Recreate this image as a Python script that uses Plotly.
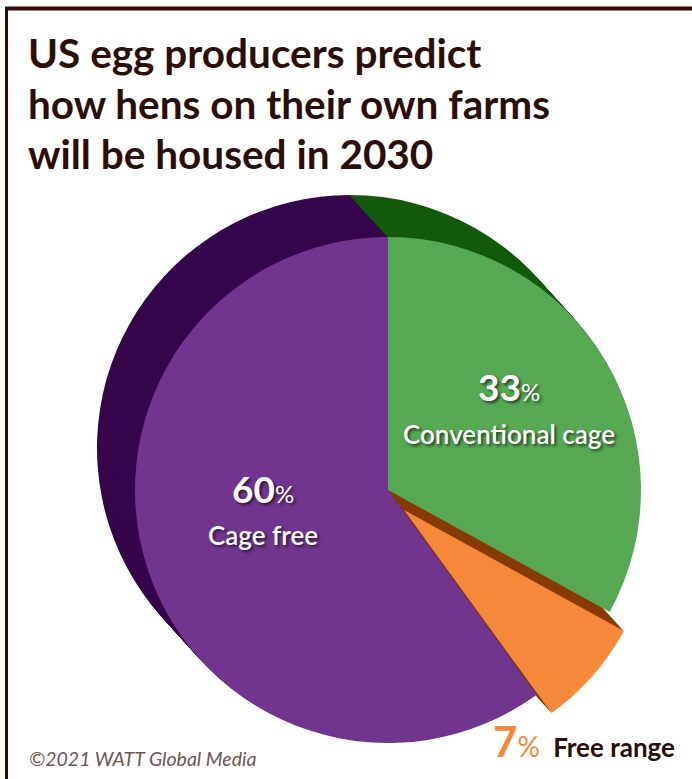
import plotly.graph_objects as go

# ---- data -------------------------------------------------------------
categories = ["Conventional cage", "Free range", "Cage free"]
shares = [33, 7, 60]

# ---- styling ----------------------------------------------------------
W, H = 692, 779
FACE = {"Conventional cage": "#56A853", "Free range": "#F6883A", "Cage free": "#72358F"}
SIDE = {"Conventional cage": "#135B0B", "Free range": "#8A3B06", "Cage free": "#36064C"}
CLEAR = "rgba(0,0,0,0)"
INK = "#2C0E09"

# pie geometry in pixels (centre x, centre y, radius)
MAIN_C, MAIN_R = (388, 490), 253
WEDGE_C, WEDGE_R = (404, 510), 251          # the detached "Free range" wedge
DEPTH = (-38, -42)                          # extrusion towards the back
N_LAYERS = 30


def domain(cx, cy, r):
    return dict(x=[(cx - r) / W, (cx + r) / W],
                y=[1 - (cy + r) / H, 1 - (cy - r) / H])


def pie(center, r, colors):
    return go.Pie(labels=categories, values=shares, sort=False,
                  direction="clockwise", rotation=0,
                  domain=domain(center[0], center[1], r),
                  marker=dict(colors=colors, line=dict(width=0)),
                  textinfo="none", hoverinfo="skip", showlegend=False)


traces = []
# side walls: stacked copies from the back to the front
for k in range(N_LAYERS, 0, -1):
    t = k / N_LAYERS
    off = (DEPTH[0] * t, DEPTH[1] * t)
    main_side = [SIDE[c] if c != "Free range" else CLEAR for c in categories]
    wedge_side = [SIDE[c] if c == "Free range" else CLEAR for c in categories]
    traces.append(pie((MAIN_C[0] + off[0], MAIN_C[1] + off[1]), MAIN_R, main_side))
    traces.append(pie((WEDGE_C[0] + off[0], WEDGE_C[1] + off[1]), WEDGE_R, wedge_side))

# front faces
traces.append(pie(MAIN_C, MAIN_R,
                  [FACE[c] if c != "Free range" else CLEAR for c in categories]))
traces.append(pie(WEDGE_C, WEDGE_R,
                  [FACE[c] if c == "Free range" else CLEAR for c in categories]))

fig = go.Figure(traces)

SHADOW = "2px 2px 3px rgba(0,0,0,0.6)"
TITLE_FONT = "Lato, sans-serif"
LABEL_FONT = "Lato, Liberation Sans, sans-serif"


def px(x, y):
    return x / W, 1 - y / H


annotations = []

title_lines = ["US egg producers predict",
               "how hens on their own farms",
               "will be housed in 2030"]
for i, line in enumerate(title_lines):
    x, y = px(26, 53 + 50 * i)
    annotations.append(dict(text=line, x=x, y=y, xref="paper", yref="paper",
                            xanchor="left", yanchor="middle", showarrow=False,
                            font=dict(family=TITLE_FONT, size=40.5, color=INK, weight=700)))

value = dict(zip(categories, shares))

# in-slice labels
inside = [("Conventional cage", 509, 386, 434), ("Cage free", 263, 489, 535)]
for name, cx, y_pct, y_name in inside:
    x, y = px(cx, y_pct)
    annotations.append(dict(
        text=f"<b>{value[name]}</b><span style='font-size:24px'>%</span>",
        x=x, y=y, xref="paper", yref="paper", xanchor="center", yanchor="middle",
        showarrow=False,
        font=dict(family=LABEL_FONT, size=37, color="white", shadow=SHADOW)))
    x, y = px(cx, y_name)
    annotations.append(dict(
        text=name, x=x, y=y, xref="paper", yref="paper", xanchor="center",
        yanchor="middle", showarrow=False,
        font=dict(family=LABEL_FONT, size=26, color="white", shadow=SHADOW, weight=600)))

# outside label for the detached wedge
x, y = px(677, 741)
orange = FACE["Free range"]
annotations.append(dict(
    text=(f"<span style='color:{orange};font-size:42px'><b>{value['Free range']}</b></span>"
          f"<span style='color:{orange};font-size:28px'>%</span>  <b>Free range</b>"),
    x=x, y=y, xref="paper", yref="paper", xanchor="right", yanchor="middle",
    showarrow=False, font=dict(family=LABEL_FONT, size=26, color=INK)))

# credit line
x, y = px(27, 758)
annotations.append(dict(
    text="<i>©2021 WATT Global Media</i>", x=x, y=y, xref="paper", yref="paper",
    xanchor="left", yanchor="middle", showarrow=False,
    font=dict(family=LABEL_FONT, size=19.5, color="#6B5752")))

# frame lines along the top and left edges
shapes = [
    dict(type="line", xref="paper", yref="paper", x0=5 / W, x1=1, y0=1 - 8.5 / H, y1=1 - 8.5 / H,
         line=dict(color="#2E0E06", width=4)),
    dict(type="line", xref="paper", yref="paper", x0=6.5 / W, x1=6.5 / W, y0=1 - 7 / H, y1=0,
         line=dict(color="#2E0E06", width=3)),
]

fig.update_layout(width=W, height=H, margin=dict(l=0, r=0, t=0, b=0),
                  paper_bgcolor="white", plot_bgcolor="white",
                  annotations=annotations, shapes=shapes, showlegend=False)

fig.write_html("out.html")
